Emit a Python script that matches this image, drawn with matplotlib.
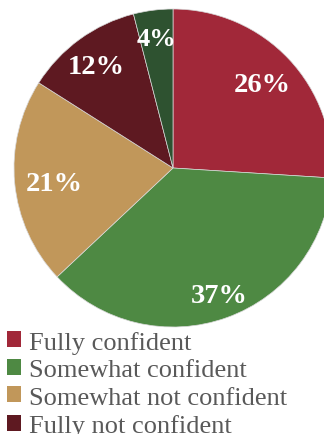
import matplotlib
matplotlib.use("Agg")
import matplotlib.pyplot as plt
import numpy as np
from matplotlib.patches import Patch

# confidence survey shares
labels = ["Fully confident", "Somewhat confident", "Somewhat not confident",
          "Fully not confident", "Not sure"]
shares = [26, 37, 21, 12, 4]
colors = ["#A12839", "#4E8943", "#C1975A", "#5E1921", "#2E5230"]
# spot for each percentage label: fraction of radius, angle nudge (deg)
label_r = [0.77, 0.85, 0.75, 0.80, 0.82]
label_dang = [0, 0, 2.0, 1.0, 0]
label_size = [20.5, 20.5, 20.5, 20.5, 19]

plt.rcParams["font.family"] = ["Liberation Serif", "DejaVu Serif"]

W, H = 324, 435
fig = plt.figure(figsize=(W / 100, H / 100), dpi=100)
fig.patch.set_facecolor("white")

cx, cy, R = 173, 169, 159
ax = fig.add_axes([(cx - R) / W, 1 - (cy + R) / H, 2 * R / W, 2 * R / H])
wedges, _ = ax.pie(shares, colors=colors, startangle=90, counterclock=False,
                   radius=1,
                   wedgeprops=dict(edgecolor="#d8d8d8", linewidth=0.5))
ax.set_xlim(-1, 1)
ax.set_ylim(-1, 1)
ax.set_aspect("equal")
ax.axis("off")

for w, v, r, da, fs in zip(wedges, shares, label_r, label_dang, label_size):
    ang = np.deg2rad((w.theta1 + w.theta2) / 2 + da)
    ax.text(r * np.cos(ang), r * np.sin(ang), f"{v}%", ha="center", va="center",
            color="white", fontsize=fs, fontweight="bold")

handles = [Patch(facecolor=c, edgecolor="none") for c in colors[:4]]
leg = fig.legend(handles, labels[:4], loc="upper left",
                 bbox_to_anchor=(0.0, 1 - 325 / H), frameon=False,
                 fontsize=19, handlelength=0.55, handleheight=0.55,
                 handletextpad=0.3, labelspacing=0.2, borderpad=0.1,
                 borderaxespad=0.15)
for t in leg.get_texts():
    t.set_color("#595959")

fig.savefig("out.png", dpi=100, facecolor="white")
